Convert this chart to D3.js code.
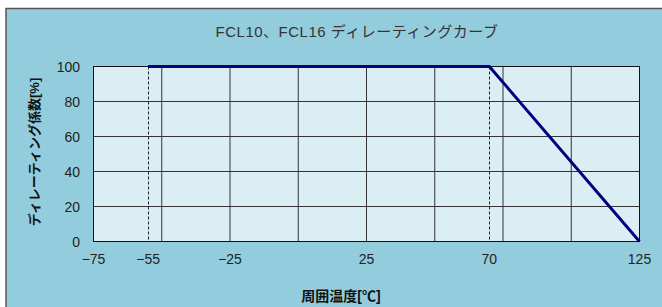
<!DOCTYPE html>
<html>
<head>
<meta charset="utf-8">
<script src="https://cdn.jsdelivr.net/npm/d3@7"></script>
<style>
  body { margin: 0; background: #fff; }
  text { font-family: "Liberation Sans", "Noto Sans CJK JP", sans-serif; }
</style>
</head>
<body>
<div id="root"></div>
<script>
// derating curve points (temperature in degC, derating %)
const tempC = [-55, 70, 125];
const derating = [100, 100, 0];
const xTickLabels = [-75, -55, -25, 25, 70, 125];
const xGrid = [-50, -25, 0, 25, 50, 75, 100, 125];
const yTicks = [0, 20, 40, 60, 80, 100];
const dashedAt = [-55, 70];

const w = 662;
const h = 307;

const svg = d3.select('#root')
  .append('svg')
  .attr('width', w)
  .attr('height', h);

// outer panel
svg.append('rect')
  .attr('x', 6)
  .attr('y', 8.5)
  .attr('width', 700)
  .attr('height', 400)
  .attr('fill', '#93cddd')
  .attr('stroke', '#555')
  .attr('stroke-width', 1.5);

const x = d3.scaleLinear().domain([-75, 125]).range([93.5, 639.5]);
const y = d3.scaleLinear().domain([0, 100]).range([241.5, 66.5]);

// plot area
svg.append('rect')
  .attr('x', x(-75))
  .attr('y', y(100))
  .attr('width', x(125) - x(-75))
  .attr('height', y(0) - y(100))
  .attr('fill', '#dbeef4');

// horizontal grid
svg.selectAll('line.hgrid')
  .data(yTicks)
  .enter()
  .append('line')
  .attr('class', 'hgrid')
  .attr('x1', x(-75))
  .attr('x2', x(125))
  .attr('y1', d => y(d))
  .attr('y2', d => y(d))
  .attr('stroke', '#333')
  .attr('stroke-width', 1);

// vertical grid
svg.selectAll('line.vgrid')
  .data(xGrid)
  .enter()
  .append('line')
  .attr('class', 'vgrid')
  .attr('x1', d => x(d))
  .attr('x2', d => x(d))
  .attr('y1', y(100))
  .attr('y2', y(0))
  .attr('stroke', '#333')
  .attr('stroke-width', 1);

// dashed markers
svg.selectAll('line.dash')
  .data(dashedAt)
  .enter()
  .append('line')
  .attr('class', 'dash')
  .attr('x1', d => Math.round(x(d)) + 0.5)
  .attr('x2', d => Math.round(x(d)) + 0.5)
  .attr('y1', y(100))
  .attr('y2', y(0))
  .attr('stroke', '#222')
  .attr('stroke-dasharray', '3,2')
  .attr('stroke-width', 1);

// plot border
svg.append('rect')
  .attr('x', x(-75))
  .attr('y', y(100))
  .attr('width', x(125) - x(-75))
  .attr('height', y(0) - y(100))
  .attr('fill', 'none')
  .attr('stroke', '#111')
  .attr('stroke-width', 1);

// curve
const line = d3.line()
  .x(d => x(d[0]))
  .y(d => y(d[1]));

svg.append('path')
  .datum(tempC.map((t, i) => [t, derating[i]]))
  .attr('d', line)
  .attr('fill', 'none')
  .attr('stroke', '#000080')
  .attr('stroke-width', 3);

// y tick labels
svg.selectAll('text.ylab')
  .data(yTicks)
  .enter()
  .append('text')
  .attr('class', 'ylab')
  .text(d => d)
  .attr('x', 80)
  .attr('y', d => y(d) + 5)
  .attr('text-anchor', 'end')
  .attr('font-size', '14px')
  .attr('fill', '#222');

// x tick labels
svg.selectAll('text.xlab')
  .data(xTickLabels)
  .enter()
  .append('text')
  .attr('class', 'xlab')
  .text(d => d < 0 ? '\u2212' + Math.abs(d) : d)
  .attr('x', d => x(d))
  .attr('y', 264)
  .attr('text-anchor', 'middle')
  .attr('font-size', '14px')
  .attr('fill', '#222');

// title
svg.append('text')
  .text('FCL10、FCL16 ディレーティングカーブ')
  .attr('x', 357)
  .attr('y', 37)
  .attr('text-anchor', 'middle')
  .attr('font-size', '15px')
  .attr('letter-spacing', '0.5px')
  .attr('fill', '#333');

// axis titles
svg.append('text')
  .text('周囲温度[℃]')
  .attr('x', 341)
  .attr('y', 301)
  .attr('text-anchor', 'middle')
  .attr('font-size', '14px')
  .attr('font-weight', 'bold')
  .attr('fill', '#111');

svg.append('text')
  .text('ディレーティング係数[%]')
  .attr('transform', 'translate(39,152) rotate(-90)')
  .attr('text-anchor', 'middle')
  .attr('font-size', '13px')
  .attr('font-weight', 'bold')
  .attr('fill', '#111');
</script>
</body>
</html>
